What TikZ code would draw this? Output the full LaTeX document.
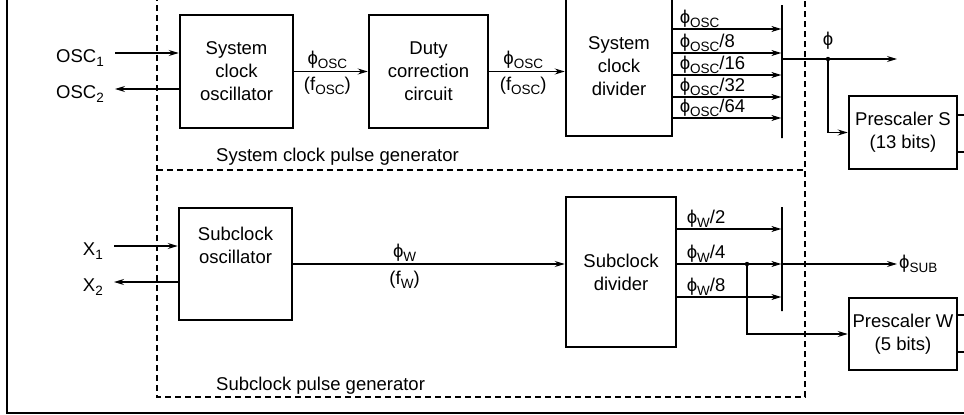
\documentclass[tikz,border=0pt]{standalone}
\usepackage{fontspec}
\setmainfont{Liberation Sans}
\usepackage{tikz}
\usetikzlibrary{arrows.meta, positioning}
\newcommand{\diagfont}{\fontsize{18.5}{23}\selectfont}
\newcommand{\sbs}[1]{\raisebox{-4pt}{\fontsize{13.5}{14}\selectfont #1}}
\newcommand{\ph}{ϕ}

\begin{document}
\begin{tikzpicture}[
  x=1pt, y=-1pt,
  box/.style={draw, line width=2.5pt, align=center, font=\diagfont, inner sep=2pt},
  bus/.style={draw, line width=1.3pt, minimum width=0pt, inner sep=0pt},
  txt/.style={font=\diagfont, inner sep=2pt},
  pinlbl/.style={font=\diagfont, anchor=east, inner xsep=11pt, inner ysep=0pt, text height=19pt, text depth=0pt},
  tap/.style={font=\diagfont, anchor=south west, inner sep=1pt},
  arr/.style={-{Stealth[length=10pt,width=6pt]}, line width=1.2pt},
  wire/.style={line width=1.2pt},
  grp/.style={line width=1.2pt, dash pattern=on 6pt off 4pt},
  frame/.style={line width=2pt}
]
\useasboundingbox (0,0) rectangle (964,415);

% frame and pulse generator groups
\draw[frame] (7,-5) -- (7,413) -- (975,413);
\draw[grp] (157,-5) -- (157,397) -- (805,397) -- (805,-5);
\draw[grp] (157,170) -- (805,170);
\node[txt, anchor=base west] (sysgen) at (214,161) {System clock pulse generator};
\node[txt, anchor=base west] (subgen) at (214,390) {Subclock pulse generator};

% system clock
\node[box, minimum width=113pt, minimum height=113pt] (sysosc) at (236.5,71.5) {System\\clock\\oscillator};
\node[box, minimum width=119pt, minimum height=113pt] (duty) at (428.5,71.5) {Duty\\correction\\circuit};
\node[box, minimum width=106pt, minimum height=140pt] (sysdiv) at (619,66) {System\\clock\\divider};
\node[bus, minimum height=133pt] (sbus) at (782,71.5) {};
\node[box, minimum width=108pt, minimum height=73pt] (pres) at (903,132.5) {Prescaler S\\(13 bits)};
\node[pinlbl] (osc1) at (115,53) {OSC\sbs{1}};
\node[pinlbl] (osc2) at (115,89) {OSC\sbs{2}};
\coordinate (phitap) at (828,59);
\coordinate (phiout) at (897,59);
\node[txt, above=7pt of phitap] (philbl) {\ph};

\draw[arr] (osc1.east) -- (osc1.east -| sysosc.west);
\draw[arr] (osc2.east -| sysosc.west) -- (osc2.east);
\draw[arr] (sysosc) -- node[txt, pos=0.45, above] {\ph\sbs{OSC}} node[txt, pos=0.45, below, yshift=-3pt] {(f\sbs{OSC})} (duty);
\draw[arr] (duty.east) -- node[txt, pos=0.45, above] {\ph\sbs{OSC}} node[txt, pos=0.45, below, yshift=-3pt] {(f\sbs{OSC})} (duty.east -| sysdiv.west);
\draw[arr] (sysdiv.east |- 0,29) -- node[tap, pos=0, xshift=5pt] {\ph\sbs{OSC}} (sbus.west |- 0,29);
\draw[arr] (sysdiv.east |- 0,53) -- node[tap, pos=0, xshift=5pt] {\ph\sbs{OSC}/8} (sbus.west |- 0,53);
\draw[arr] (sysdiv.east |- 0,75) -- node[tap, pos=0, xshift=5pt] {\ph\sbs{OSC}/16} (sbus.west |- 0,75);
\draw[arr] (sysdiv.east |- 0,97) -- node[tap, pos=0, xshift=5pt] {\ph\sbs{OSC}/32} (sbus.west |- 0,97);
\draw[arr] (sysdiv.east |- 0,118) -- node[tap, pos=0, xshift=5pt] {\ph\sbs{OSC}/64} (sbus.west |- 0,118);
\draw[arr] (sbus.east |- phiout) -- (phiout);
\fill (phitap) circle (2.2pt);
\draw[arr] (phitap) |- (pres.west);
\draw[wire] (pres.east |- 0,115) -- ++(15,0);
\draw[wire] (pres.east |- 0,152) -- ++(15,0);

% subclock
\node[box, minimum width=113pt, minimum height=112pt,
  label={[txt, align=center, yshift=19pt]center:Subclock\\oscillator}] (subosc) at (235.5,264) {};
\node[box, minimum width=110pt, minimum height=150pt] (subdiv) at (621,272) {Subclock\\divider};
\node[bus, minimum height=104pt] (wbus) at (782,259) {};
\node[box, minimum width=108pt, minimum height=72pt] (prew) at (903,334) {Prescaler W\\(5 bits)};
\node[pinlbl] (x1) at (114,246) {X\sbs{1}};
\node[pinlbl] (x2) at (114,282) {X\sbs{2}};
\node[txt, anchor=west] (phisub) at (897,264) {\ph\sbs{SUB}};
\coordinate (wtap) at (747,264);

\draw[arr] (x1.east) -- (x1.east -| subosc.west);
\draw[arr] (x2.east -| subosc.west) -- (x2.east);
\draw[arr] (subosc.east) -- node[txt, pos=0.41, above] {\ph\sbs{W}} node[txt, pos=0.41, below, yshift=-4pt] {(f\sbs{W})} (subosc.east -| subdiv.west);
\draw[arr] (subdiv.east |- 0,229) -- node[tap, pos=0, xshift=8pt] {\ph\sbs{W}/2} (wbus.west |- 0,229);
\draw[arr] (subdiv.east |- wtap) -- node[tap, pos=0, xshift=8pt] {\ph\sbs{W}/4} (wbus.west |- wtap);
\draw[arr] (subdiv.east |- 0,297) -- node[tap, pos=0, xshift=8pt] {\ph\sbs{W}/8} (wbus.west |- 0,297);
\draw[arr] (wbus.east |- wtap) -- (phisub.west);
\fill (wtap) circle (2.2pt);
\draw[arr] (wtap) |- (prew.west);
\draw[wire] (prew.east |- 0,315) -- ++(15,0);
\draw[wire] (prew.east |- 0,352) -- ++(15,0);
\end{tikzpicture}
\end{document}
